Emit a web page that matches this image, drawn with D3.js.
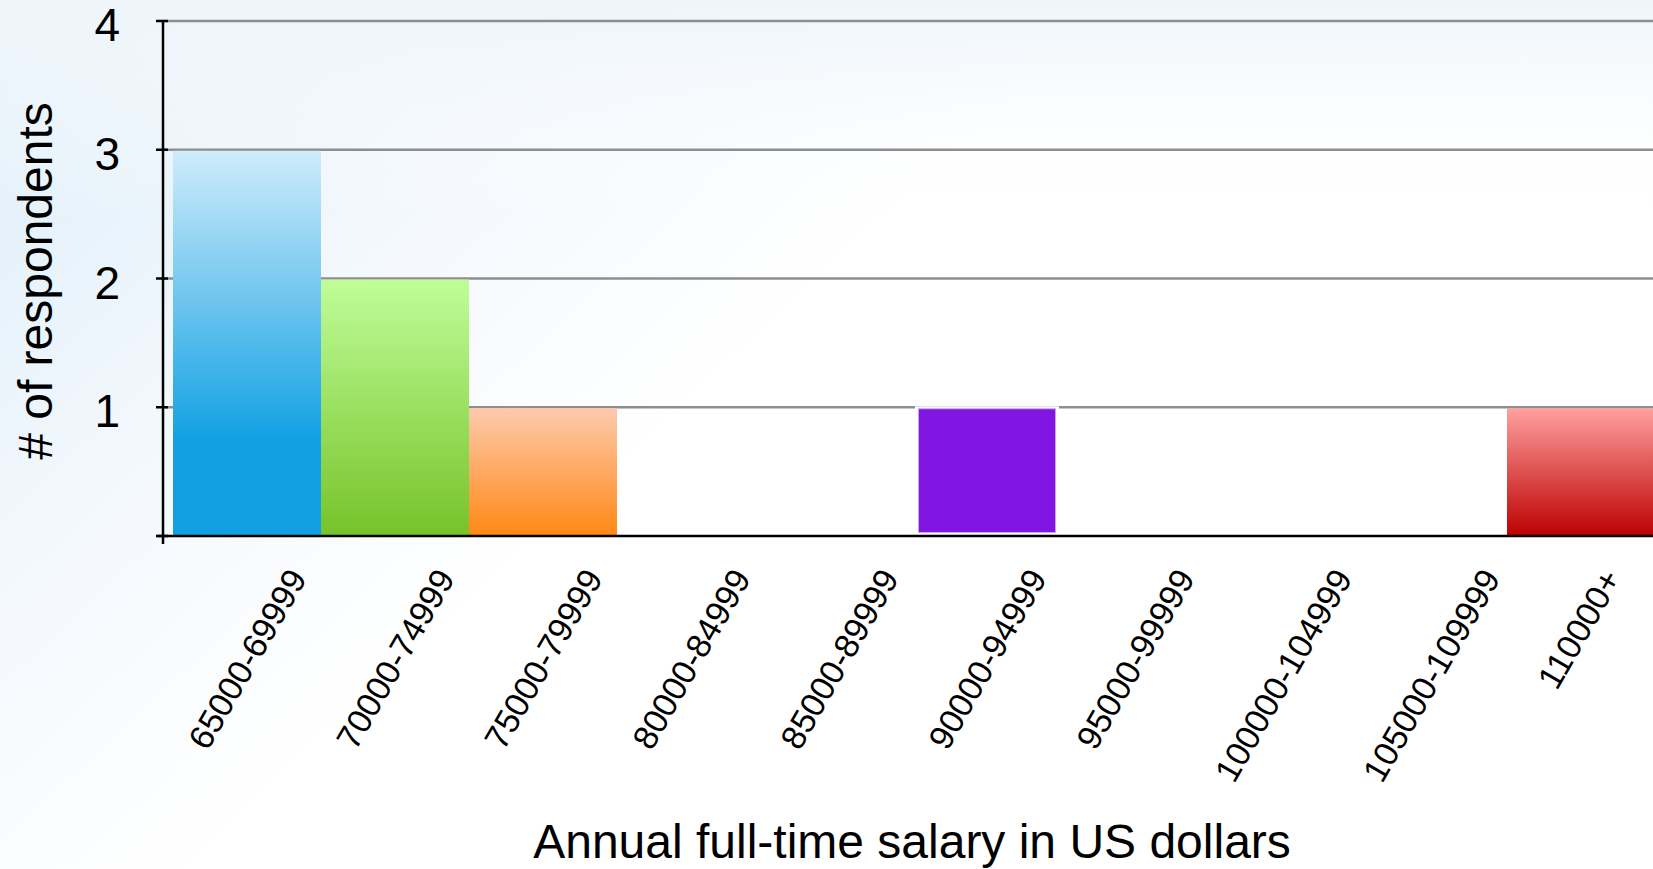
<!DOCTYPE html>
<html>
<head>
<meta charset="utf-8">
<script src="https://cdn.jsdelivr.net/npm/d3@7"></script>
<style>
  html, body { margin: 0; padding: 0; overflow: hidden; background: #ffffff; }
  svg { display: block; }
  text { font-family: "Liberation Sans", Arial, Helvetica, sans-serif; fill: #000; }
</style>
</head>
<body>
<svg id="chart" width="1653" height="869"></svg>
<script>
// ---- data ----
const categories = ["65000-69999", "70000-74999", "75000-79999", "80000-84999", "85000-89999",
                    "90000-94999", "95000-99999", "100000-104999", "105000-109999", "110000+"];
const counts = [3, 2, 1, 0, 0, 1, 0, 0, 0, 1];
const yTickValues = [1, 2, 3, 4];
const yTickLabels = ["1", "2", "3", "4"];
const xTitle = "Annual full-time salary in US dollars";
const yTitle = "# of respondents";

// ---- styles ----
const barStyles = [
  {type: "grad", stops: [[0, "#cfecfb"], [0.38, "#70c6ef"], [0.75, "#12a0e3"], [1, "#12a0e3"]]},
  {type: "grad", stops: [[0, "#c0fd99"], [1, "#76c32a"]]},
  {type: "grad", stops: [[0, "#fdcaad"], [1, "#ff8815"]]},
  {type: "grad", stops: [[0, "#cccccc"], [1, "#888888"]]},
  {type: "grad", stops: [[0, "#cccccc"], [1, "#888888"]]},
  {type: "solid", color: "#8116e2"},
  {type: "grad", stops: [[0, "#cccccc"], [1, "#888888"]]},
  {type: "grad", stops: [[0, "#cccccc"], [1, "#888888"]]},
  {type: "grad", stops: [[0, "#cccccc"], [1, "#888888"]]},
  {type: "grad", stops: [[0, "#ffa0a0"], [1, "#bd0000"]]}
];

const W = 1653, H = 869;
const svg = d3.select("#chart");
const defs = svg.append("defs");

// background
const bg1 = defs.append("linearGradient").attr("id", "bgDiag")
  .attr("gradientUnits", "userSpaceOnUse")
  .attr("x1", 0).attr("y1", 0).attr("x2", 520).attr("y2", 560);
bg1.append("stop").attr("offset", 0).attr("stop-color", "#dbedf9");
bg1.append("stop").attr("offset", 0.55).attr("stop-color", "#f3f8fd");
bg1.append("stop").attr("offset", 1).attr("stop-color", "#ffffff");
const bg2 = defs.append("linearGradient").attr("id", "bgTop")
  .attr("gradientUnits", "userSpaceOnUse")
  .attr("x1", 0).attr("y1", 0).attr("x2", 0).attr("y2", 220);
bg2.append("stop").attr("offset", 0).attr("stop-color", "#eef5fb").attr("stop-opacity", 1);
bg2.append("stop").attr("offset", 1).attr("stop-color", "#ffffff").attr("stop-opacity", 0);

svg.append("rect").attr("width", W).attr("height", H).attr("fill", "url(#bgDiag)");
svg.append("rect").attr("width", W).attr("height", 220).attr("fill", "url(#bgTop)");

// scales
const x = d3.scaleBand().domain(categories).range([173, 1653]).padding(0);
const y = d3.scaleLinear().domain([0, 4]).range([536, 21]);
const axisX = 163;

// bar gradients
barStyles.forEach((s, i) => {
  if (s.type !== "grad") return;
  const g = defs.append("linearGradient").attr("id", "bar" + i)
    .attr("x1", 0).attr("y1", 0).attr("x2", 0).attr("y2", 1);
  s.stops.forEach(st => g.append("stop").attr("offset", st[0]).attr("stop-color", st[1]));
});

// gridlines
svg.append("g").selectAll("line").data(yTickValues).join("line")
  .attr("x1", axisX).attr("x2", W)
  .attr("y1", d => y(d)).attr("y2", d => y(d))
  .attr("stroke", "#8e8e8e").attr("stroke-width", 2.5);

// bars
const data = categories.map((c, i) => ({c, v: counts[i], i}));
const bars = svg.append("g");
data.filter(d => d.v > 0).forEach(d => {
  const s = barStyles[d.i];
  const x0 = x(d.c), bw = x.bandwidth();
  const top = y(d.v), base = y(0);
  if (s.type === "solid") {
    bars.append("rect")
      .attr("x", x0 + 2).attr("y", top - 1)
      .attr("width", bw - 4).attr("height", base - top)
      .attr("fill", "#ffffff");
    bars.append("rect")
      .attr("x", x0 + 5.5).attr("y", top + 1.5)
      .attr("width", bw - 11).attr("height", base - top - 5)
      .attr("fill", s.color).attr("stroke", "#c9a6f2").attr("stroke-width", 1);
  } else {
    bars.append("rect")
      .attr("x", x0 + (d.i === categories.length - 1 ? 2 : 0)).attr("y", top + 1)
      .attr("width", bw).attr("height", base - top - 1)
      .attr("fill", "url(#bar" + d.i + ")");
  }
});

// axes lines
const axes = svg.append("g").attr("stroke", "#000");
axes.append("line").attr("x1", axisX).attr("x2", axisX)
  .attr("y1", y(4) - 1).attr("y2", y(0) + 8).attr("stroke-width", 2.5);
axes.append("line").attr("x1", 157).attr("x2", W)
  .attr("y1", y(0)).attr("y2", y(0)).attr("stroke-width", 2.5);
axes.selectAll("line.tick").data([0].concat(yTickValues)).join("line")
  .attr("class", "tick")
  .attr("x1", 156).attr("x2", 168)
  .attr("y1", d => y(d)).attr("y2", d => y(d))
  .attr("stroke-width", 2.5);

// y tick labels
svg.append("g").selectAll("text").data(yTickValues).join("text")
  .attr("x", 120).attr("y", d => y(d) + 20)
  .attr("text-anchor", "end")
  .attr("font-size", 46)
  .text((d, i) => yTickLabels[i]);

// x tick labels: rotated -60, bounding box centred on band, top aligned
const fs = 34, h = 0.716 * fs, topY = 566;
const xl = svg.append("g");
categories.forEach(c => {
  const t = xl.append("text").attr("font-size", fs).attr("text-anchor", "end").text(c);
  const L = t.node().getComputedTextLength();
  const cx = x(c) + x.bandwidth() / 2;
  const ax = cx + (0.5 * L + 0.866 * h) / 2;
  const ay = topY + 0.5 * h;
  t.attr("transform", `translate(${ax},${ay}) rotate(-60)`);
});

// axis titles
svg.append("text").attr("x", 912).attr("y", 858)
  .attr("text-anchor", "middle").attr("font-size", 48).text(xTitle);
svg.append("text").attr("transform", "translate(52,281) rotate(-90)")
  .attr("text-anchor", "middle").attr("font-size", 48).text(yTitle);
</script>
</body>
</html>
